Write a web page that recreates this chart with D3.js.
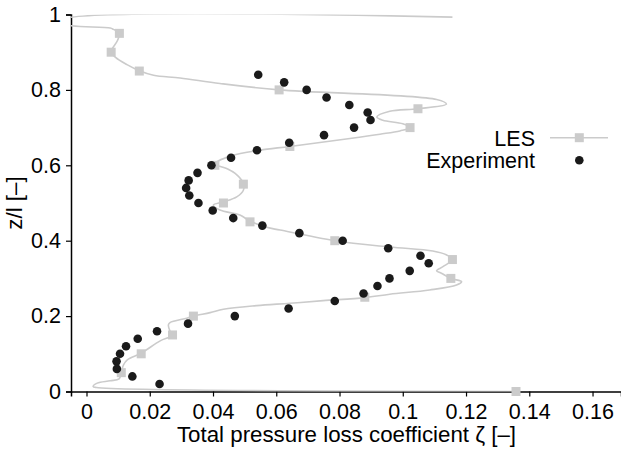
<!DOCTYPE html>
<html>
<head>
<meta charset="utf-8">
<script src="https://cdn.jsdelivr.net/npm/d3@7"></script>
<style>
  body { margin: 0; background: #fff; }
  svg { display: block; font-family: "Liberation Sans", Arial, sans-serif; }
  .tick text { font-size: 21.5px; fill: #000; }
  .axis-label { font-size: 22.3px; fill: #000; }
  .legend-label { font-size: 21.5px; fill: #000; }
</style>
</head>
<body>
<div id="wrapper"></div>
<script>
// LES profile (dense line), top to bottom
const lesZeta = [0.1157, -0.008, -0.008, 0.0075, 0.0085, 0.0104, 0.0098, 0.0078, 0.0091, 0.0128,
  0.0167, 0.0212, 0.0296, 0.0422, 0.0609, 0.1107, 0.1138, 0.1048, 0.0959, 0.0918,
  0.0937, 0.1000, 0.1023, 0.0991, 0.0928, 0.0833, 0.0643, 0.0548, 0.0457, 0.0406,
  0.0443, 0.0470, 0.0496, 0.0496, 0.0475, 0.0433, 0.0401, 0.0422, 0.0485, 0.0517,
  0.0570, 0.0612, 0.0785, 0.0959, 0.1095, 0.1139, 0.1157, 0.1127, 0.1107, 0.1122,
  0.1152, 0.1186, 0.1170, 0.1085, 0.0959, 0.0880, 0.0748, 0.0643, 0.0538, 0.0433,
  0.0391, 0.0338, 0.0317, 0.0264, 0.0259, 0.0264, 0.0272, 0.0233, 0.0173, 0.0129,
  0.0117, 0.0110, 0.0103, 0.0075, 0.0034, 0.0021, 0.0031, 0.1358];
const lesZ = [0.993, 0.986, 0.976, 0.964, 0.9605, 0.951, 0.931, 0.9015, 0.887, 0.867,
  0.851, 0.839, 0.8316, 0.817, 0.800, 0.7744, 0.7622, 0.750, 0.7434, 0.7283,
  0.7196, 0.7103, 0.700, 0.6912, 0.6825, 0.6711, 0.650, 0.6401, 0.625, 0.604,
  0.5916, 0.5784, 0.552, 0.534, 0.5164, 0.503, 0.4944, 0.4812, 0.468, 0.452,
  0.4354, 0.4282, 0.400, 0.3832, 0.3726, 0.362, 0.3506, 0.331, 0.3204, 0.3136,
  0.300, 0.2913, 0.2826, 0.2693, 0.258, 0.249, 0.241, 0.234, 0.2278, 0.2182,
  0.2092, 0.200, 0.1944, 0.1827, 0.1766, 0.1605, 0.1494, 0.1343, 0.1017, 0.084,
  0.0707, 0.0514, 0.0336, 0.0283, 0.0222, 0.0132, 0.0106, 0.000];

// LES square markers
const lesMarkZeta = [0.0104, 0.0078, 0.0167, 0.0609, 0.1048, 0.1023, 0.0643, 0.0406, 0.0496, 0.0433,
  0.0517, 0.0785, 0.1157, 0.1152, 0.0880, 0.0338, 0.0272, 0.0173, 0.0110, 0.1358];
const lesMarkZ = [0.95, 0.90, 0.85, 0.80, 0.75, 0.70, 0.65, 0.60, 0.55, 0.50,
  0.45, 0.40, 0.35, 0.30, 0.25, 0.20, 0.15, 0.10, 0.05, 0.00];

// Experiment
const expZeta = [0.0543, 0.0625, 0.0696, 0.0759, 0.0831, 0.0889, 0.0898, 0.0846, 0.0751, 0.0641,
  0.0539, 0.0457, 0.0395, 0.0351, 0.0323, 0.0315, 0.0325, 0.0354, 0.0399, 0.0464,
  0.0556, 0.0673, 0.0810, 0.0954, 0.1056, 0.1082, 0.1022, 0.0958, 0.0920, 0.0876,
  0.0785, 0.0639, 0.0469, 0.0321, 0.0223, 0.0162, 0.0125, 0.0106, 0.0095, 0.0096,
  0.0145, 0.0231];
const expZ = [0.84, 0.82, 0.80, 0.78, 0.76, 0.74, 0.72, 0.70, 0.68, 0.66,
  0.64, 0.62, 0.60, 0.58, 0.56, 0.54, 0.52, 0.50, 0.48, 0.46,
  0.44, 0.42, 0.40, 0.38, 0.36, 0.34, 0.32, 0.30, 0.28, 0.26,
  0.24, 0.22, 0.20, 0.18, 0.16, 0.14, 0.12, 0.10, 0.08, 0.06,
  0.04, 0.02];

const xTicks = [0, 0.02, 0.04, 0.06, 0.08, 0.1, 0.12, 0.14, 0.16];
const yTicks = [0, 0.2, 0.4, 0.6, 0.8, 1];
const legendLabels = ["LES", "Experiment"];

function drawChart() {
  const lesGrey = "#cbcbcb";
  const dotColor = "#1a1a1a";

  // Dimensions
  let dimensions = {
    width: 621,
    height: 454,
    margin: { top: 14.5, bottom: 62.5, left: 71, right: 0 },
  };
  dimensions.boundedWidth = dimensions.width - dimensions.margin.left - dimensions.margin.right;
  dimensions.boundedHeight = dimensions.height - dimensions.margin.top - dimensions.margin.bottom;

  // Canvas
  const wrapper = d3.select("#wrapper")
    .append("svg")
    .attr("width", dimensions.width)
    .attr("height", dimensions.height);

  const bounds = wrapper.append("g")
    .attr("transform", `translate(${dimensions.margin.left},${dimensions.margin.top})`);

  bounds.append("clipPath")
    .attr("id", "plot-clip")
    .append("rect")
    .attr("width", dimensions.boundedWidth)
    .attr("height", dimensions.boundedHeight);

  // Scales
  const xScale = d3.scaleLinear()
    .domain([-0.0049, 0.169])
    .range([0, dimensions.boundedWidth]);
  const yScale = d3.scaleLinear()
    .domain([0, 1])
    .range([dimensions.boundedHeight, 0]);

  // Axes
  const xAxis = bounds.append("g")
    .attr("transform", `translate(0,${dimensions.boundedHeight})`)
    .call(d3.axisBottom(xScale).tickValues(xTicks).tickSize(5).tickPadding(5)
      .tickFormat((d) => d3.format("~g")(d)));
  const yAxis = bounds.append("g")
    .call(d3.axisLeft(yScale).tickValues(yTicks).tickSize(5).tickPadding(5)
      .tickFormat((d) => d3.format("~g")(d)));

  [xAxis, yAxis].forEach((ax) => {
    ax.select(".domain").attr("stroke", "#000").attr("stroke-width", 1.5);
    ax.selectAll(".tick line").attr("stroke", "#000").attr("stroke-width", 1.2);
  });
  xAxis.selectAll(".tick text").attr("dy", "0.8em");

  xAxis.append("text")
    .attr("class", "axis-label")
    .attr("x", 275.5)
    .attr("y", 50.5)
    .attr("text-anchor", "middle")
    .text("Total pressure loss coefficient ζ [–]");

  yAxis.append("text")
    .attr("class", "axis-label")
    .attr("transform", "rotate(-90)")
    .attr("x", -yScale(0.5))
    .attr("y", -49)
    .attr("text-anchor", "middle")
    .text("z/l [–]");

  // LES line
  const lesPoints = lesZeta.map((d, i) => [d, lesZ[i]]);
  const lineGenerator = d3.line()
    .x((d) => xScale(d[0]))
    .y((d) => yScale(d[1]))
    .curve(d3.curveCatmullRom.alpha(0.5));

  bounds.append("path")
    .datum(lesPoints)
    .attr("clip-path", "url(#plot-clip)")
    .attr("d", lineGenerator)
    .attr("fill", "none")
    .attr("stroke", lesGrey)
    .attr("stroke-width", 1.6);

  bounds.append("g")
    .selectAll("rect")
    .data(lesMarkZeta.map((d, i) => [d, lesMarkZ[i]]))
    .join("rect")
    .attr("x", (d) => xScale(d[0]) - 4.5)
    .attr("y", (d) => yScale(d[1]) - 4.5)
    .attr("width", 9)
    .attr("height", 9)
    .attr("fill", lesGrey);

  // Experiment dots
  bounds.append("g")
    .selectAll("circle")
    .data(expZeta.map((d, i) => [d, expZ[i]]))
    .join("circle")
    .attr("cx", (d) => xScale(d[0]))
    .attr("cy", (d) => yScale(d[1]))
    .attr("r", 4.3)
    .attr("fill", dotColor);

  // Legend
  const legend = wrapper.append("g").attr("transform", "translate(535,0)");
  legend.selectAll("text")
    .data(legendLabels)
    .join("text")
    .attr("class", "legend-label")
    .attr("x", 0)
    .attr("y", (d, i) => 145.5 + i * 22)
    .attr("text-anchor", "end")
    .text((d) => d);
  legend.append("line")
    .attr("x1", 15).attr("x2", 73)
    .attr("y1", 137.7).attr("y2", 137.7)
    .attr("stroke", lesGrey).attr("stroke-width", 1.6);
  legend.append("rect")
    .attr("x", 44.3 - 4.5).attr("y", 137.7 - 4.5)
    .attr("width", 9).attr("height", 9)
    .attr("fill", lesGrey);
  legend.append("circle")
    .attr("cx", 44.3).attr("cy", 160.3)
    .attr("r", 4.3)
    .attr("fill", dotColor);
}

drawChart();
</script>
</body>
</html>
